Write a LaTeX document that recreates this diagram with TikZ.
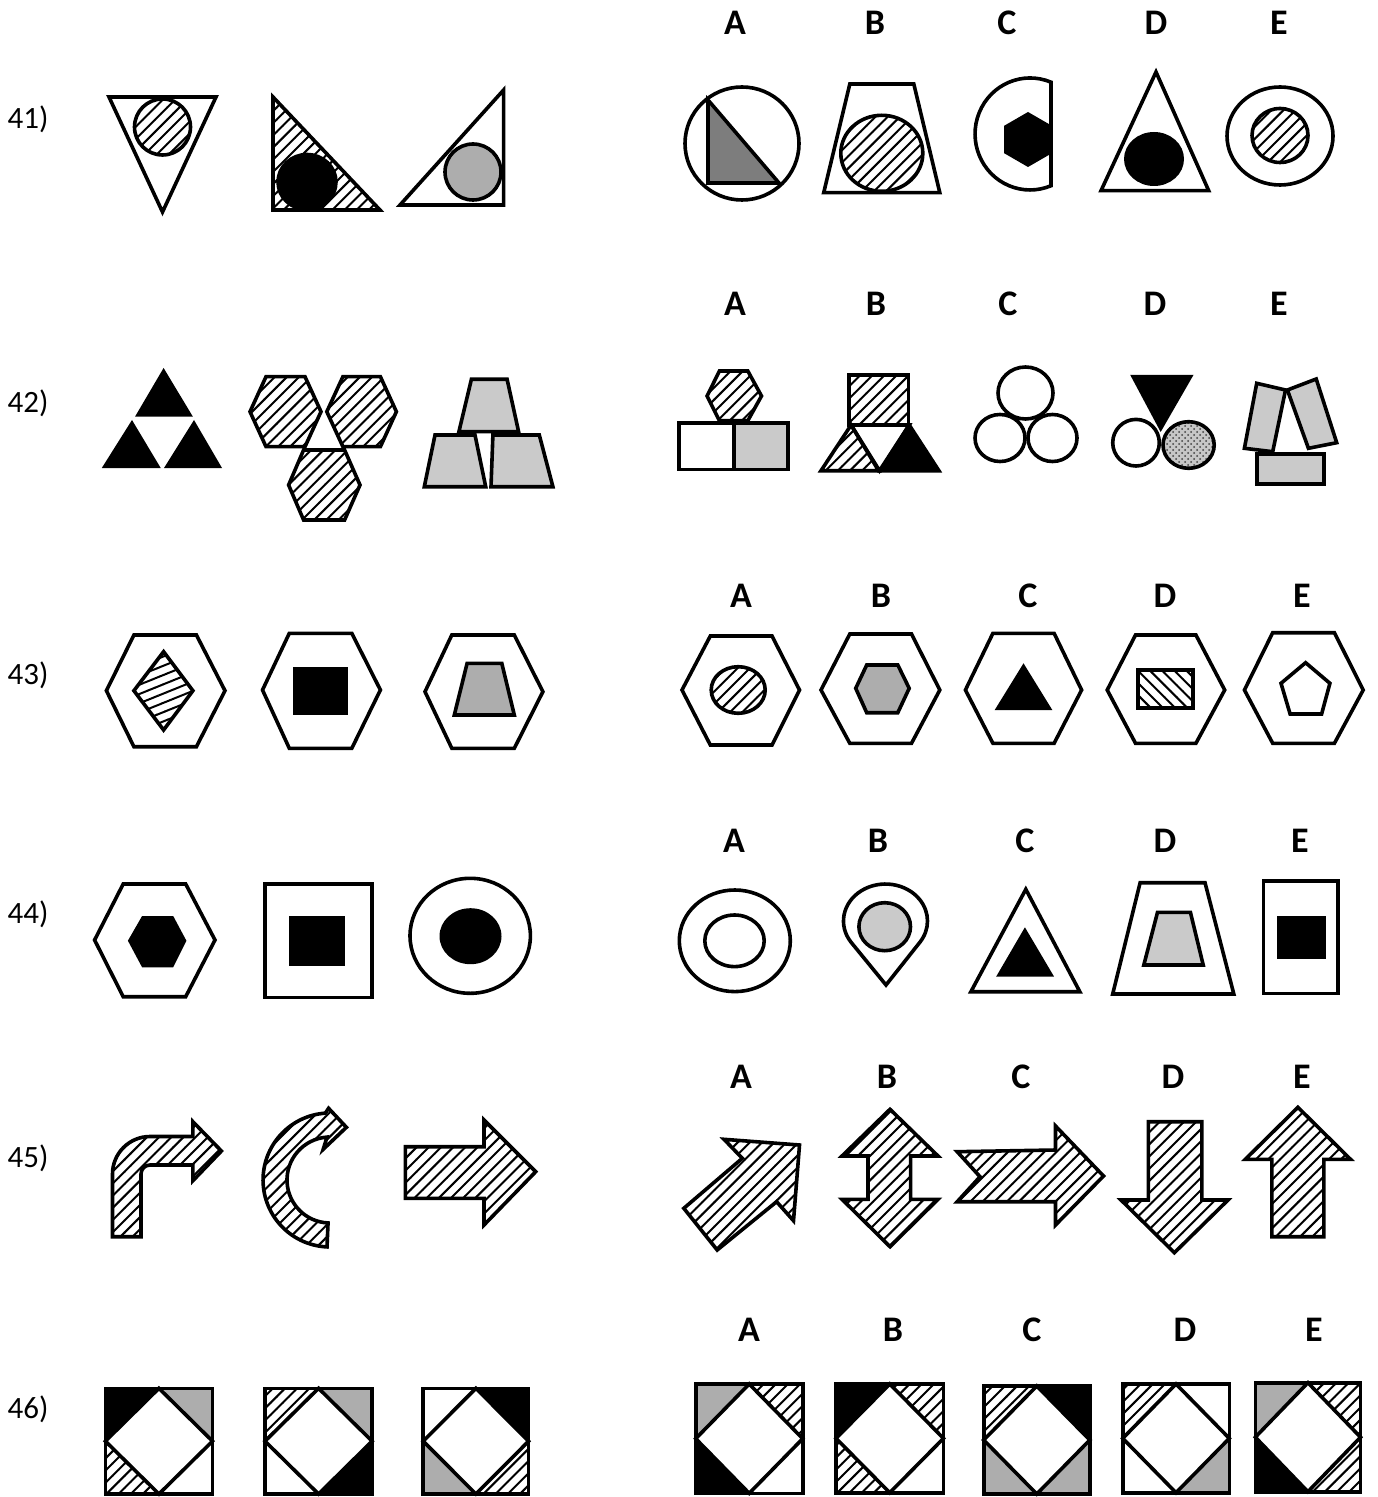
\documentclass[tikz,border=0pt]{standalone}
\usepackage{fontspec}
\setmainfont{Carlito}
\usetikzlibrary{patterns,patterns.meta}
\definecolor{gdark}{HTML}{7D7D7D}
\definecolor{gmid}{HTML}{ADADAD}
\definecolor{glight}{HTML}{CACACA}
\tikzdeclarepattern{
  name=hatchp,
  parameters={\hatchsize,\hatchangle,\hatchlinewidth},
  bounding box={(-.1pt,-.1pt) and (\hatchsize+.1pt,\hatchsize+.1pt)},
  tile size={(\hatchsize,\hatchsize)},
  tile transformation={rotate=\hatchangle},
  defaults={
    size/.store in=\hatchsize,size=5pt,
    angle/.store in=\hatchangle,angle=45,
    line width/.store in=\hatchlinewidth,line width=.4pt,
  },
  code={
    \draw[line width=\hatchlinewidth] (-.1pt,\hatchsize/2) -- (\hatchsize+.1pt,\hatchsize/2);
  },
}
\tikzset{
  sh/.style={draw=black,line width=1.8pt,line join=miter},
  hat/.style={pattern={hatchp[size=4.3pt,angle=45,line width=1pt]},pattern color=black},
  hatb/.style={pattern={hatchp[size=4.3pt,angle=-45,line width=1pt]},pattern color=black},
  hatf/.style={pattern={hatchp[size=4.3pt,angle=22,line width=1pt]},pattern color=black},
  num/.style={font=\fontsize{15.5}{18}\selectfont,inner sep=0pt},
  let/.style={font=\bfseries\fontsize{18}{20}\selectfont,inner sep=0pt},
}
\newcommand\diamsq[8]{%
  \pgfmathsetmacro\dsqx{(#1+#3)/2}\pgfmathsetmacro\dsqy{(#2+#4)/2}%
  \path[#5] (#1,#2) -- (\dsqx,#2) -- (#1,\dsqy) -- cycle;
  \path[#6] (#3,#2) -- (\dsqx,#2) -- (#3,\dsqy) -- cycle;
  \path[#7] (#1,#4) -- (\dsqx,#4) -- (#1,\dsqy) -- cycle;
  \path[#8] (#3,#4) -- (\dsqx,#4) -- (#3,\dsqy) -- cycle;
  \draw[sh] (#1,#2) rectangle (#3,#4);
  \draw[sh] (\dsqx,#2) -- (#3,\dsqy) -- (\dsqx,#4) -- (#1,\dsqy) -- cycle;
}
\begin{document}
\begin{tikzpicture}[x=0.5pt,y=-0.5pt]
\useasboundingbox[fill=white] (0,0) rectangle (1377,1497);

% ---------- row labels ----------
\node[num] (n41) at (28,119) {41)};
\node[num] (n42) at (28,403) {42)};
\node[num] (n43) at (28,675) {43)};
\node[num] (n44) at (28,914) {44)};
\node[num] (n45) at (28,1158) {45)};
\node[num] (n46) at (28,1409) {46)};

% ---------- letter labels ----------
\foreach \lx/\lt [count=\i] in {735/A,875/B,1007/C,1156/D,1279/E}
  \node[let] (a\i) at (\lx,23) {\lt};
\foreach \lx/\lt [count=\i] in {735/A,876/B,1008/C,1155/D,1279/E}
  \node[let] (b\i) at (\lx,304) {\lt};
\foreach \lx/\lt [count=\i] in {741/A,881/B,1028/C,1165/D,1302/E}
  \node[let] (c\i) at (\lx,596) {\lt};
\foreach \lx/\lt [count=\i] in {734/A,878/B,1025/C,1165/D,1300/E}
  \node[let] (d\i) at (\lx,841) {\lt};
\foreach \lx/\lt [count=\i] in {741/A,887/B,1021/C,1173/D,1302/E}
  \node[let] (e\i) at (\lx,1077) {\lt};
\foreach \lx/\lt [count=\i] in {749/A,893/B,1032/C,1185/D,1314/E}
  \node[let] (f\i) at (\lx,1330) {\lt};

% ================= 41 =================
\draw[sh] (109,97) -- (216,97) -- (162.5,212) -- cycle;
\draw[sh,hat] (162.5,127) circle[radius=28];
\draw[sh,hat] (273,97) -- (273,210) -- (380,210) -- cycle;
\draw[sh,fill=black] (307,182) circle[x radius=29,y radius=27.5];
\draw[sh] (503.6,90) -- (503.6,205) -- (400,205) -- cycle;
\draw[sh,fill=gmid] (473,172) circle[radius=28];
% A
\draw[sh] (742,143.5) circle[x radius=57,y radius=56.5];
\draw[sh,fill=gdark] (708,100) -- (708,183) -- (779,183) -- cycle;
% B
\draw[sh] (849.8,84) -- (913.8,84) -- (939.8,192.7) -- (823.7,192.7) -- cycle;
\draw[sh,hat] (881.8,153.3) circle[x radius=41,y radius=38];
% C
\fill[black] (1028,112) -- (1051.8,125.75) -- (1051.8,153.25) -- (1028,167) -- (1004.2,153.25) -- (1004.2,125.75) -- cycle;
\draw[sh] (1051,82.2) arc[start angle=-67.6,end angle=-292.4,x radius=55,y radius=56] -- cycle;
% D
\draw[sh] (1156,72) -- (1208.7,190.7) -- (1101,190.7) -- cycle;
\fill[black] (1154,159) circle[x radius=30,y radius=27];
% E
\draw[sh] (1280,136) circle[x radius=53,y radius=49];
\draw[sh,hat] (1280,135.5) circle[x radius=28,y radius=27];

% ================= 42 =================
\fill[black] (163.6,368) -- (192.9,416.7) -- (135,416.7) -- cycle;
\fill[black] (132,420) -- (160.7,468) -- (101.8,468) -- cycle;
\fill[black] (194,420) -- (222,468) -- (164,468) -- cycle;
\draw[sh,hat] (250,411.7) -- (266,376.7) -- (305,376.7) -- (321,411.7) -- (305,446.7) -- (266,446.7) -- cycle;
\draw[sh,hat] (326.8,411.7) -- (342.9,376.7) -- (380.4,376.7) -- (396.4,411.7) -- (380.4,446.7) -- (342.9,446.7) -- cycle;
\draw[sh,hat] (288.6,485) -- (303.6,450) -- (344.6,450) -- (360,485) -- (344.6,520) -- (303.6,520) -- cycle;
\draw[sh,fill=glight] (471.4,379.3) -- (507.1,379.3) -- (518.6,431.7) -- (458.9,431.7) -- cycle;
\draw[sh,fill=glight] (435,435) -- (475,435) -- (485.7,486.7) -- (424.3,486.7) -- cycle;
\draw[sh,fill=glight] (492.9,435) -- (539.3,435) -- (552.9,486.7) -- (491,486.7) -- cycle;
% A
\draw[sh,hat] (707.1,396) -- (719.4,371) -- (747.8,371) -- (761.5,396) -- (747.8,420.7) -- (719.4,420.7) -- cycle;
\draw[sh] (679.2,423.3) rectangle (734.1,469.3);
\draw[sh,fill=glight] (734.1,423.3) rectangle (788,469.3);
% B
\draw[sh,hat] (848.8,375) rectangle (908.3,425);
\draw[sh,hat] (851.1,425) -- (878.6,470.7) -- (821,470.7) -- cycle;
\draw[sh,fill=black] (909.2,425) -- (938.9,470.7) -- (880.4,470.7) -- cycle;
\draw[sh] (851.1,425) -- (909.2,425) -- (879.5,470.7) -- cycle;
% C
\draw[sh] (1025.5,393) circle[x radius=27.5,y radius=26];
\draw[sh] (1000,438) circle[x radius=25,y radius=23.5];
\draw[sh] (1052.5,438) circle[x radius=24.5,y radius=23.5];
% D
\draw[sh,fill=black] (1133.2,376.7) -- (1190.4,376.7) -- (1160.7,428.3) -- cycle;
\draw[sh] (1136,442.7) circle[radius=23.3];
\fill[gray!45] (1188.6,445) circle[x radius=25.6,y radius=23.3];
\fill[pattern=crosshatch dots,pattern color=black!75] (1188.6,445) circle[x radius=25.6,y radius=23.3];
\draw[sh] (1188.6,445) circle[x radius=25.6,y radius=23.3];
% E
\draw[sh,fill=glight] (1256.7,383.3) -- (1285.5,390) -- (1272.7,451.7) -- (1244.4,448.3) -- cycle;
\draw[sh,fill=glight] (1287.4,390) -- (1316.2,379) -- (1336.7,442.7) -- (1308.4,448.3) -- cycle;
\draw[sh,fill=glight] (1256.7,454) rectangle (1323.9,484);

% ================= 43 =================
\draw[sh] (106.4,690.7) -- (133.9,635) -- (196.4,635) -- (225,690.7) -- (196.4,746.7) -- (133.9,746.7) -- cycle;
\draw[sh,hatf] (163.6,651.7) -- (192.9,690.7) -- (163.6,730) -- (133.9,690.7) -- cycle;
\draw[sh] (262.5,690) -- (289.3,633.3) -- (351.8,633.3) -- (380.4,690) -- (351.8,748.3) -- (289.3,748.3) -- cycle;
\fill[black] (292.9,666.7) rectangle (348.2,715);
\draw[sh] (425,691.7) -- (451.8,635) -- (514.3,635) -- (542.9,691.7) -- (514.3,748.3) -- (451.8,748.3) -- cycle;
\draw[sh,fill=gmid] (467.1,663.3) -- (501.8,663.3) -- (514.3,715) -- (454.3,715) -- cycle;
% A
\draw[sh] (682,690) -- (710.3,636) -- (772,636) -- (799.5,690) -- (772,745) -- (710.3,745) -- cycle;
\draw[sh,hat] (738.2,690) circle[x radius=27,y radius=23.3];
% B
\draw[sh] (821,690) -- (849.8,634) -- (911.5,634) -- (939.8,690) -- (911.5,743.3) -- (849.8,743.3) -- cycle;
\draw[sh,fill=gmid] (855.7,688.3) -- (866.7,665) -- (897.8,665) -- (909.2,688.3) -- (897.8,712.7) -- (866.7,712.7) -- cycle;
% C
\draw[sh] (965.4,690) -- (992.9,633.3) -- (1054.1,633.3) -- (1081.6,690) -- (1054.1,743.3) -- (992.9,743.3) -- cycle;
\fill[black] (1023.5,663.3) -- (1052.3,710) -- (994.7,710) -- cycle;
% D
\draw[sh] (1107.2,690) -- (1135.5,635) -- (1195.9,635) -- (1224.7,690) -- (1195.9,743.3) -- (1135.5,743.3) -- cycle;
\draw[sh,hatb] (1137.8,670) rectangle (1192.7,707.7);
% E
\draw[sh] (1244.4,690) -- (1272.7,632.7) -- (1334.4,632.7) -- (1363.2,690) -- (1334.4,743.3) -- (1272.7,743.3) -- cycle;
\draw[sh] (1305.6,662.7) -- (1329.9,683.3) -- (1321.6,714) -- (1290.1,714) -- (1281,683.3) -- cycle;

% ================= 44 =================
\draw[sh] (94.6,940) -- (123.2,884) -- (185.7,884) -- (215,940) -- (185.7,996.7) -- (123.2,996.7) -- cycle;
\fill[black] (127.9,940.7) -- (142.1,916) -- (173.2,916) -- (186.4,940.7) -- (173.2,967.3) -- (142.1,967.3) -- cycle;
\draw[sh] (265,884) rectangle (372.1,997.3);
\fill[black] (289.3,916) rectangle (344.6,966);
\draw[sh] (470.2,935.8) circle[x radius=60.2,y radius=57.5];
\fill[black] (470.5,936.2) circle[x radius=31,y radius=28];
% A
\draw[sh] (734.8,940.8) circle[x radius=55.5,y radius=50.8];
\draw[sh] (734.5,940.8) circle[x radius=29.7,y radius=25.8];
% B
\draw[sh] (886,985) -- (851.2,942.4) arc[start angle=144.7,end angle=395.3,x radius=42,y radius=37] -- cycle;
\draw[sh,fill=glight] (884.7,926.7) circle[x radius=25.8,y radius=24];
% C
\draw[sh] (1025.8,889.3) -- (1079.8,991.7) -- (970.9,991.7) -- cycle;
\fill[black] (1024.9,927.3) -- (1054.1,976.7) -- (996.1,976.7) -- cycle;
% D
\draw[sh] (1140.1,882.7) -- (1205,882.7) -- (1233.8,994) -- (1112.7,994) -- cycle;
\draw[sh,fill=glight] (1157.5,912.3) -- (1190.4,912.3) -- (1203.2,965) -- (1143.8,965) -- cycle;
% E
\draw[sh] (1263.6,880.7) rectangle (1338.1,993.3);
\fill[black] (1277.3,916) rectangle (1326.2,959.3);

% ================= 45 =================
\draw[sh,hat] (112.5,1236.7) -- (112.5,1174) arc[start angle=180,end angle=270,radius=37.5]
  -- (192.9,1136.5) -- (192.9,1121.7) -- (221.4,1151) -- (192.9,1180.7) -- (192.9,1165)
  -- (150,1165) arc[start angle=270,end angle=180,radius=9] -- (141,1236.7) -- cycle;
\draw[sh,hat] (327,1246.9) arc[start angle=92.6,end angle=266,radius=67]
  -- (328.6,1108.3) -- (346.4,1127.3) -- (323.2,1149.3)
  -- (327,1137.1) arc[start angle=266,end angle=92.6,radius=43] -- cycle;
\draw[sh,hat] (405.4,1146.7) -- (484,1146.7) -- (484,1120) -- (535.7,1171.7) -- (484,1225) -- (484,1198.3) -- (405.4,1198.3) -- cycle;
% A
\draw[sh,hat] (799.5,1145) -- (724,1139.3) -- (742.3,1158.3) -- (683.8,1208.3) -- (717.2,1250) -- (776.6,1201.7) -- (793.5,1220.7) -- cycle;
% B
\draw[sh,hat] (890,1109.3) -- (938,1156) -- (910.6,1156) -- (910.6,1199.3) -- (938,1199.3) -- (890,1246.7) -- (842,1199.3) -- (868,1199.3) -- (868,1156) -- (842,1156) -- cycle;
% C
\draw[sh,hat] (957.2,1151.7) -- (1055.5,1150) -- (1055.5,1126) -- (1103.5,1176) -- (1055.5,1225) -- (1055.5,1201.7) -- (957.2,1201.7) -- (980,1176.7) -- cycle;
% D
\draw[sh,hat] (1148.3,1121.7) -- (1201.8,1121.7) -- (1201.8,1200) -- (1228,1200) -- (1174.4,1252.7) -- (1121,1200) -- (1148.3,1200) -- cycle;
% E
\draw[sh,hat] (1297.9,1107.3) -- (1350.5,1159.3) -- (1323.9,1159.3) -- (1323.9,1236.7) -- (1271.8,1236.7) -- (1271.8,1159.3) -- (1245.3,1159.3) -- cycle;

% ================= 46 =================
\diamsq{105.4}{1388.3}{212.5}{1494}{fill=black}{fill=gmid}{hat}{fill=white}
\diamsq{265}{1388.3}{372.1}{1494}{hat}{fill=gmid}{fill=white}{fill=black}
\diamsq{423.2}{1388.3}{528.6}{1494}{fill=white}{fill=black}{fill=gmid}{hat}
\diamsq{695.7}{1384}{802.7}{1493.3}{fill=gmid}{hat}{fill=black}{fill=white}
\diamsq{836}{1384}{943.5}{1492.7}{fill=black}{hat}{hat}{fill=white}
\diamsq{983.7}{1386}{1089.8}{1494}{hat}{fill=black}{fill=gmid}{fill=gmid}
\diamsq{1122.7}{1384}{1229.3}{1492.7}{hat}{fill=white}{fill=white}{fill=gmid}
\diamsq{1255.3}{1382.7}{1360.5}{1491.7}{fill=gmid}{hat}{fill=black}{hat}
\end{tikzpicture}
\end{document}
